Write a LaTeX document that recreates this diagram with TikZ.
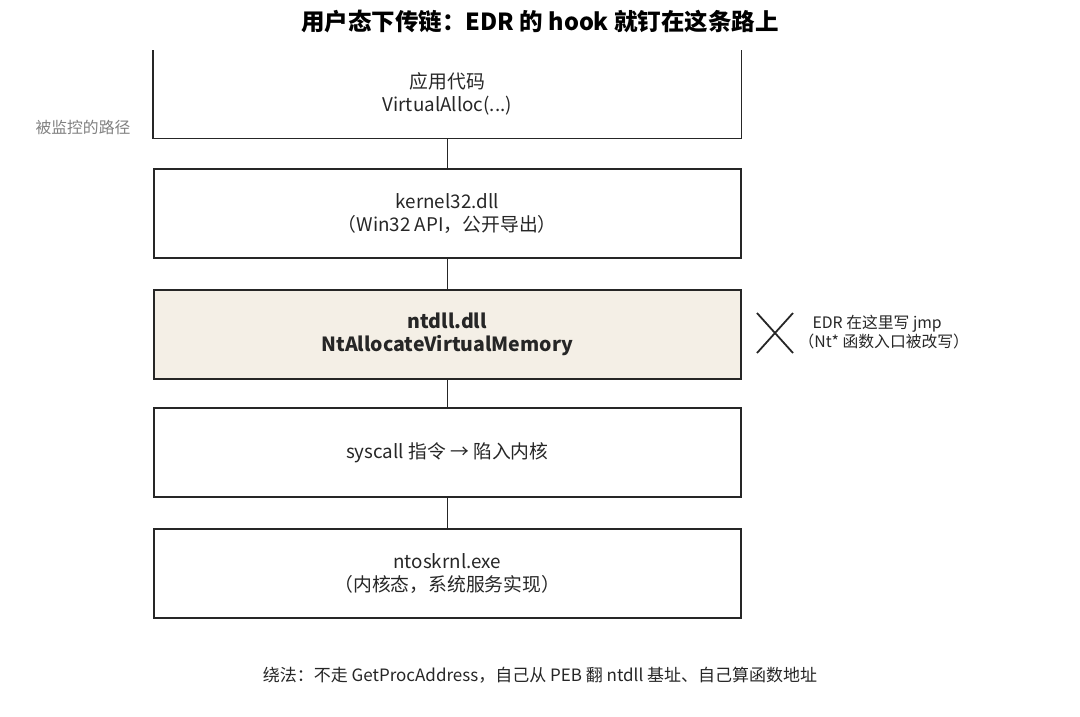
\documentclass[tikz,border=0pt]{standalone}
\usepackage{fontspec}
\setmainfont{Noto Sans CJK SC}
\definecolor{beige}{HTML}{F4EFE6}
\begin{document}
\begin{tikzpicture}[x=1pt,y=-1pt,
  box/.style={draw=black!85,line width=1.6pt,minimum width=587pt,minimum height=89pt,anchor=north west,inner sep=0pt,align=center,font=\fontsize{18.8}{23}\selectfont,text=black!85},
  conn/.style={draw=black!85,line width=1.6pt}]
\useasboundingbox (0,0) rectangle (1080,716);
\node[font=\fontsize{23.5}{26}\selectfont\bfseries] (title) at (540,22) {用户态下传链：EDR 的 hook 就钉在这条路上};
\node[font=\fontsize{15.8}{18}\selectfont,text=black!50] (lab) at (83,127) {被监控的路径};
\node[box,draw=none,minimum height=87pt] (b1) at (153,50) {应用代码\\VirtualAlloc(...)};
\draw[conn] (b1.north west) -- (b1.south west) -- (b1.south east) -- (b1.north east);
\node[box] (b2) at (153,168) {kernel32.dll\\（Win32 API，公开导出）};
\node[box,fill=beige,font=\fontsize{19.5}{23}\selectfont\bfseries] (b3) at (153,289) {ntdll.dll\\NtAllocateVirtualMemory};
\node[box] (b4) at (153,407) {syscall 指令 → 陷入内核};
\node[box] (b5) at (153,528) {ntoskrnl.exe\\（内核态，系统服务实现）};
\draw[conn] (b1.south) -- (b2.north);
\draw[conn] (b2.south) -- (b3.north);
\draw[conn] (b3.south) -- (b4.north);
\draw[conn] (b4.south) -- (b5.north);
\coordinate (x1) at (757,313); \coordinate (x2) at (793,353);
\coordinate (x3) at (757,353); \coordinate (x4) at (793,313);
\draw[line width=1.8pt,black!85] (x1) -- (x2) (x3) -- (x4);
\node[anchor=west,align=left,font=\fontsize{15.8}{19}\selectfont,text=black!85] (edr) at (795,332) {\hspace*{14pt}EDR 在这里写 jmp\\（Nt* 函数入口被改写）};
\node[font=\fontsize{17}{19}\selectfont,text=black!85] (foot) at (540,675) {绕法：不走 GetProcAddress，自己从 PEB 翻 ntdll 基址、自己算函数地址};
\end{tikzpicture}
\end{document}
